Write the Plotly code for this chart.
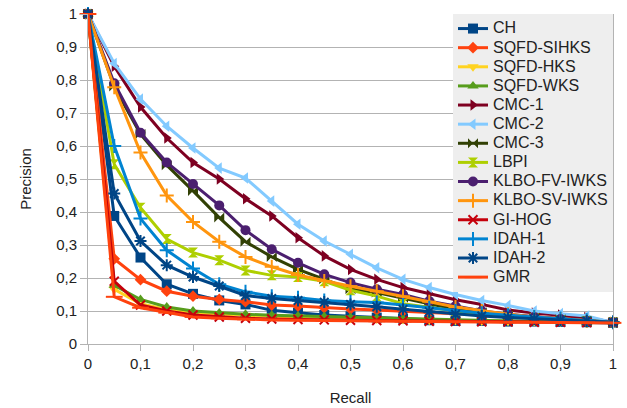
import plotly.graph_objects as go

recall = [0, 0.05, 0.1, 0.15, 0.2, 0.25, 0.3, 0.35, 0.4, 0.45, 0.5,
          0.55, 0.6, 0.65, 0.7, 0.75, 0.8, 0.85, 0.9, 0.95, 1.0]

ch = [1, 0.388, 0.262, 0.181, 0.152, 0.132, 0.12, 0.102, 0.095, 0.088, 0.084,
      0.08, 0.077, 0.072, 0.07, 0.07, 0.068, 0.068, 0.067, 0.066, 0.064]
sqfd_sihks = [1, 0.258, 0.195, 0.16, 0.145, 0.135, 0.128, 0.118, 0.115, 0.11, 0.106,
              0.103, 0.099, 0.095, 0.092, 0.09, 0.087, 0.082, 0.079, 0.075, 0.066]
sqfd_hks = [1, 0.166, 0.122, 0.105, 0.095, 0.09, 0.087, 0.084, 0.082, 0.08, 0.078,
            0.076, 0.074, 0.072, 0.071, 0.07, 0.069, 0.068, 0.067, 0.066, 0.065]
sqfd_wks = [1, 0.178, 0.135, 0.112, 0.1, 0.094, 0.09, 0.087, 0.085, 0.083, 0.08,
            0.078, 0.076, 0.074, 0.072, 0.071, 0.07, 0.069, 0.068, 0.067, 0.066]
cmc1 = [1, 0.842, 0.718, 0.624, 0.55, 0.5, 0.44, 0.388, 0.322, 0.267, 0.226,
        0.196, 0.171, 0.152, 0.134, 0.12, 0.103, 0.094, 0.088, 0.08, 0.066]
cmc2 = [1, 0.85, 0.742, 0.66, 0.594, 0.533, 0.503, 0.433, 0.363, 0.312, 0.272,
        0.231, 0.196, 0.171, 0.15, 0.132, 0.117, 0.1, 0.092, 0.085, 0.065]
cmc3 = [1, 0.78, 0.636, 0.542, 0.464, 0.383, 0.31, 0.264, 0.226, 0.196, 0.166,
        0.156, 0.14, 0.122, 0.105, 0.096, 0.088, 0.08, 0.075, 0.07, 0.066]
lbpi = [1, 0.545, 0.413, 0.318, 0.277, 0.254, 0.223, 0.208, 0.203, 0.19, 0.163,
        0.145, 0.122, 0.11, 0.1, 0.09, 0.083, 0.078, 0.073, 0.07, 0.066]
klbo_fv = [1, 0.79, 0.64, 0.55, 0.485, 0.42, 0.345, 0.287, 0.246, 0.211, 0.186,
           0.166, 0.15, 0.13, 0.115, 0.1, 0.09, 0.082, 0.076, 0.07, 0.066]
klbo_sv = [1, 0.778, 0.58, 0.45, 0.37, 0.31, 0.264, 0.234, 0.209, 0.191, 0.175,
           0.16, 0.145, 0.128, 0.112, 0.1, 0.09, 0.082, 0.076, 0.07, 0.066]
gi_hog = [1, 0.19, 0.118, 0.1, 0.088, 0.082, 0.078, 0.076, 0.074, 0.073, 0.072,
          0.071, 0.07, 0.069, 0.068, 0.067, 0.067, 0.066, 0.066, 0.065, 0.065]
idah1 = [1, 0.6, 0.38, 0.284, 0.229, 0.181, 0.158, 0.145, 0.14, 0.132, 0.128,
         0.126, 0.118, 0.11, 0.1, 0.093, 0.087, 0.082, 0.077, 0.072, 0.066]
idah2 = [1, 0.456, 0.312, 0.239, 0.203, 0.176, 0.147, 0.138, 0.132, 0.127, 0.12,
         0.113, 0.105, 0.098, 0.09, 0.085, 0.08, 0.076, 0.072, 0.07, 0.066]
gmr = [1, 0.143, 0.11, 0.095, 0.082, 0.078, 0.075, 0.073, 0.072, 0.071, 0.07,
       0.069, 0.068, 0.068, 0.067, 0.067, 0.066, 0.066, 0.065, 0.065, 0.064]

names = ["CH", "SQFD-SIHKS", "SQFD-HKS", "SQFD-WKS", "CMC-1", "CMC-2", "CMC-3",
         "LBPI", "KLBO-FV-IWKS", "KLBO-SV-IWKS", "GI-HOG", "IDAH-1", "IDAH-2", "GMR"]
series = [ch, sqfd_sihks, sqfd_hks, sqfd_wks, cmc1, cmc2, cmc3,
          lbpi, klbo_fv, klbo_sv, gi_hog, idah1, idah2, gmr]
colors = ["#004586", "#ff420e", "#ffd320", "#579d1c", "#7e0021", "#83caff", "#314004",
          "#aecf00", "#4b1f6f", "#ff950e", "#c5000b", "#0084d1", "#004586", "#ff420e"]
symbols = ["square", "diamond", "triangle-down", "triangle-up", "triangle-right",
           "triangle-left", "bowtie", "hourglass", "circle", "cross-thin", "x-thin",
           "cross-thin", "asterisk", "line-ew"]
sizes = [10, 9, 10, 10, 10, 10, 10, 10, 10, 10, 9, 10, 10, 12]

fig = go.Figure()
for name, ys, col, sym, sz in zip(names, series, colors, symbols, sizes):
    thin = "thin" in sym or sym in ("asterisk", "line-ew")
    fig.add_trace(go.Scatter(
        x=recall, y=ys, mode="lines+markers",
        name='<span style="font-size:16px">' + name + '</span>',
        line=dict(color=col, width=3),
        marker=dict(symbol=sym, size=sz, color=col,
                    line=dict(color=col, width=2 if thin else 0)),
        cliponaxis=False,
    ))

fig.update_layout(
    width=627, height=408,
    margin=dict(l=88, r=14, t=14, b=64),
    paper_bgcolor="white", plot_bgcolor="white",
    separators=", ",
    font=dict(family="Liberation Sans, Arial, sans-serif", size=15, color="#222222"),
    showlegend=True,
    legend=dict(x=1, xanchor="right", y=1, yanchor="top",
                bgcolor="#eeeeee", borderwidth=0,
                font=dict(size=12.4, color="#222222"),
                itemwidth=30, tracegroupgap=0),
    xaxis=dict(range=[0, 1], dtick=0.1, tick0=0, showgrid=False,
               showline=True, linecolor="#b3b3b3", linewidth=1,
               ticks="outside", ticklen=6, tickcolor="#b3b3b3",
               zeroline=False, mirror=False, automargin=False,
               title=dict(text="Recall", standoff=21, font=dict(size=15))),
    yaxis=dict(range=[0, 1], dtick=0.1, tick0=0, showgrid=True,
               gridcolor="#b3b3b3", gridwidth=1,
               showline=True, linecolor="#b3b3b3", linewidth=1, mirror=True,
               ticks="outside", ticklen=7, tickcolor="#b3b3b3",
               zeroline=False, automargin=False,
               title=dict(text="Precision", standoff=20, font=dict(size=15))),
)

# remove the browser's default 8px body margin so the figure fills the window
fig.write_html("out.html",
               config={"displayModeBar": False},
               post_script="document.body.style.margin='0';document.body.style.overflow='hidden';")
